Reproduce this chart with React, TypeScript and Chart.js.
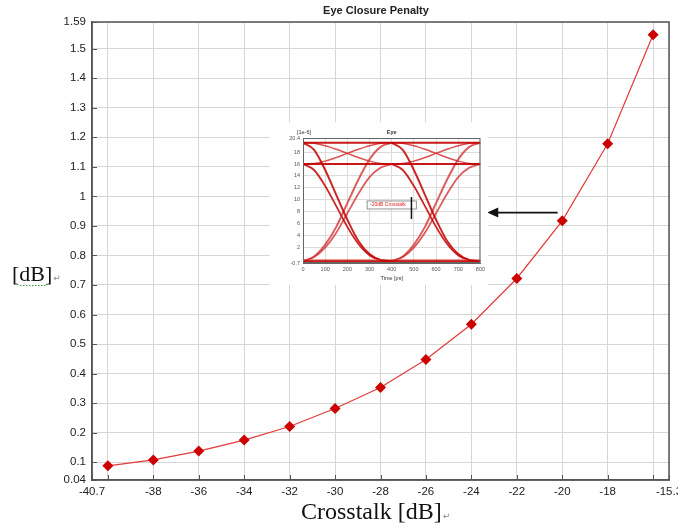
import React, { useEffect, useRef } from "react";
import { Chart, registerables } from "chart.js";

Chart.register(...registerables);

// ---------- main chart data ----------
const crosstalkDb = [-40, -38, -36, -34, -32, -30, -28, -26, -24, -22, -20, -18, -16];
const penaltyDb = [0.088, 0.108, 0.138, 0.175, 0.221, 0.282, 0.353, 0.448, 0.567, 0.722, 0.917, 1.178, 1.547];
const xTickValues = [-40.7, -40, -38, -36, -34, -32, -30, -28, -26, -24, -22, -20, -18, -16, -15.3];
const xTickUnlabeled = [-40, -16];
const yTickValues = [0.04, 0.1, 0.2, 0.3, 0.4, 0.5, 0.6, 0.7, 0.8, 0.9, 1, 1.1, 1.2, 1.3, 1.4, 1.5, 1.59];
const xMin = -40.7;
const xMax = -15.3;
const yMin = 0.04;
const yMax = 1.59;

const chartTitle = "Eye Closure Penalty";
const xAxisTitle = "Crosstalk [dB]";
const yAxisTitle = "[dB]";

// arrow annotation (data units)
const arrowTail = { x: -20.2, y: 0.945 };
const arrowHead = { x: -23.3, y: 0.945 };

// ---------- inset eye diagram data ----------
const eyeTitle = "Eye";
const eyeUnit = "[1e-6]";
const eyeXTitle = "Time [ps]";
const eyeNote = "-20dB Crosstalk";
const eyeBitStarts = [0, 400];
const eyeTime = [0, 50, 100, 150, 200, 250, 300, 350, 400];
const eyeHigh = [19.6, 19.6, 19.6, 19.6, 19.6, 19.6, 19.6, 19.6, 19.6];
const eyeMid = [16.0, 16.0, 16.0, 16.0, 16.0, 16.0, 16.0, 16.0, 16.0];
const eyeLow = [-0.4, -0.4, -0.4, -0.4, -0.4, -0.4, -0.4, -0.4, -0.4];
const eyeLow2 = [-0.2, -0.2, -0.2, -0.2, -0.2, -0.2, -0.2, -0.2, -0.2];
const eyeHighToLow = [19.6, 18.4, 15.0, 10.8, 6.6, 3.0, 0.8, -0.2, -0.4];
const eyeLowToHigh = [-0.4, 0.4, 2.4, 5.4, 9.4, 13.4, 16.8, 18.9, 19.6];
const eyeMidToLow = [16.0, 15.0, 12.3, 8.9, 5.4, 2.5, 0.6, -0.2, -0.4];
const eyeLowToMid = [-0.4, 0.3, 1.9, 4.4, 7.7, 11.0, 13.8, 15.4, 16.0];
const eyeHighToMid = [19.6, 19.5, 19.1, 18.5, 17.8, 17.1, 16.5, 16.1, 16.0];
const eyeMidToHigh = [16.0, 16.1, 16.5, 17.1, 17.8, 18.5, 19.1, 19.5, 19.6];
const eyeXTicks = [0, 100, 200, 300, 400, 500, 600, 700, 800];
const eyeYTicks = [-0.7, 2, 4, 6, 8, 10, 12, 14, 16, 18, 20.4];
const eyeXMin = 0;
const eyeXMax = 800;
const eyeYMin = -0.7;
const eyeYMax = 20.4;
// note box and marker in eye data units
const eyeNoteBox = { x1: 289, x2: 511, y1: 9.77, y2: 8.42 };
const eyeMarker = { x: 489, y1: 10.44, y2: 6.73 };

const fmt = (v: number) => String(Number(v.toFixed(2)));

const SANS = "'Liberation Sans', Arial, sans-serif";
const SERIF = "'Liberation Serif', 'Times New Roman', serif";

export default function App() {
  const mainRef = useRef<HTMLCanvasElement>(null);
  const insetRef = useRef<HTMLCanvasElement>(null);

  useEffect(() => {
    const decor = {
      id: "decor",
      afterDraw(chart: any) {
        const { ctx, chartArea: a, scales } = chart;
        const xs = scales.x;
        const ys = scales.y;
        ctx.save();
        // inward tick marks
        ctx.strokeStyle = "#555";
        ctx.lineWidth = 1;
        xTickValues.forEach((v) => {
          const px = Math.round(xs.getPixelForValue(v)) + 0.5;
          ctx.beginPath();
          ctx.moveTo(px, a.bottom);
          ctx.lineTo(px, a.bottom - 5);
          ctx.stroke();
        });
        yTickValues.forEach((v) => {
          const py = Math.round(ys.getPixelForValue(v)) + 0.5;
          ctx.beginPath();
          ctx.moveTo(a.left, py);
          ctx.lineTo(a.left + 5, py);
          ctx.stroke();
        });
        // frame
        ctx.strokeStyle = "#555";
        ctx.lineWidth = 1.5;
        ctx.strokeRect(a.left, a.top, a.right - a.left, a.bottom - a.top);
        // title
        ctx.fillStyle = "#222";
        ctx.font = `bold 11px ${SANS}`;
        ctx.textAlign = "center";
        ctx.textBaseline = "middle";
        ctx.fillText(chartTitle, 376, 11);
        // y title
        ctx.font = `22px ${SERIF}`;
        ctx.textAlign = "left";
        ctx.textBaseline = "alphabetic";
        ctx.fillStyle = "#111";
        ctx.fillText(yAxisTitle, 12, 281);
        const yw = ctx.measureText(yAxisTitle).width;
        ctx.strokeStyle = "#3a9a3a";
        ctx.lineWidth = 1;
        ctx.setLineDash([1.5, 1.5]);
        ctx.beginPath();
        ctx.moveTo(20, 285.5);
        ctx.lineTo(12 + yw - 7, 285.5);
        ctx.stroke();
        ctx.setLineDash([]);
        ctx.fillStyle = "#888";
        ctx.font = `9px 'DejaVu Sans'`;
        ctx.fillText("\u21b5", 12 + yw + 1, 281);
        // x title
        ctx.fillStyle = "#111";
        ctx.font = `24px ${SERIF}`;
        ctx.fillText(xAxisTitle, 301, 519);
        const xw = ctx.measureText(xAxisTitle).width;
        ctx.fillStyle = "#888";
        ctx.font = `9px 'DejaVu Sans'`;
        ctx.fillText("\u21b5", 301 + xw + 1, 519);
        // arrow
        const x1 = xs.getPixelForValue(arrowTail.x);
        const x2 = xs.getPixelForValue(arrowHead.x);
        const y = ys.getPixelForValue(arrowTail.y);
        ctx.strokeStyle = "#111";
        ctx.fillStyle = "#111";
        ctx.lineWidth = 1.6;
        ctx.beginPath();
        ctx.moveTo(x1, y);
        ctx.lineTo(x2 + 9, y);
        ctx.stroke();
        ctx.beginPath();
        ctx.moveTo(x2, y);
        ctx.lineTo(x2 + 11, y - 5);
        ctx.lineTo(x2 + 11, y + 5);
        ctx.closePath();
        ctx.fill();
        ctx.restore();
      },
    };

    const main = new Chart(mainRef.current!, {
      type: "line",
      data: {
        datasets: [
          {
            data: crosstalkDb.map((x, i) => ({ x, y: penaltyDb[i] })),
            borderColor: "#e33a3a",
            borderWidth: 1.2,
            pointStyle: "rectRot",
            pointRadius: 5.5,
            pointBackgroundColor: "#cc0000",
            pointBorderColor: "#cc0000",
            pointBorderWidth: 0,
          },
        ],
      },
      options: {
        animation: false,
        responsive: true,
        maintainAspectRatio: false,
        layout: { padding: { top: 22, right: 21, left: 0, bottom: 0 } },
        plugins: { legend: { display: false }, tooltip: { enabled: false }, title: { display: false } },
        scales: {
          x: {
            type: "linear",
            min: xMin,
            max: xMax,
            afterBuildTicks: (s: any) => {
              s.ticks = xTickValues.map((v) => ({ value: v }));
            },
            afterFit: (s: any) => {
              s.height = 47;
            },
            ticks: {
              autoSkip: false,
              maxRotation: 0,
              padding: 5,
              color: "#222",
              font: { family: SANS, size: 11.5 },
              callback: (v: any) => (xTickUnlabeled.includes(Number(v)) ? "" : fmt(Number(v))),
            },
            grid: { color: "#d6d6d6", drawTicks: false },
            border: { color: "#555", width: 1.5 },
          },
          y: {
            type: "linear",
            min: yMin,
            max: yMax,
            afterBuildTicks: (s: any) => {
              s.ticks = yTickValues.map((v) => ({ value: v }));
            },
            afterFit: (s: any) => {
              s.width = 92;
            },
            ticks: {
              autoSkip: false,
              padding: 6,
              color: "#222",
              font: { family: SANS, size: 11.5 },
              callback: (v: any) => fmt(Number(v)),
            },
            grid: { color: "#d6d6d6", drawTicks: false },
            border: { color: "#555", width: 1.5 },
          },
        },
      } as any,
      plugins: [decor],
    });

    const curves: { d: number[]; c: string; w: number }[] = [
      { d: eyeHigh, c: "rgba(195,0,0,0.9)", w: 2 },
      { d: eyeMid, c: "rgba(195,0,0,0.9)", w: 2 },
      { d: eyeLow, c: "rgba(195,0,0,0.9)", w: 2 },
      { d: eyeLow2, c: "rgba(220,60,60,0.7)", w: 1.4 },
      { d: eyeHighToLow, c: "rgba(195,0,0,0.85)", w: 2 },
      { d: eyeLowToHigh, c: "rgba(210,40,40,0.75)", w: 2 },
      { d: eyeMidToLow, c: "rgba(195,0,0,0.85)", w: 1.8 },
      { d: eyeLowToMid, c: "rgba(210,40,40,0.75)", w: 1.8 },
      { d: eyeHighToMid, c: "rgba(210,40,40,0.8)", w: 1.5 },
      { d: eyeMidToHigh, c: "rgba(210,40,40,0.8)", w: 1.5 },
    ];
    const insetDatasets: any[] = [];
    eyeBitStarts.forEach((t0) => {
      curves.forEach((cv) => {
        insetDatasets.push({
          data: eyeTime.map((t, i) => ({ x: t + t0, y: cv.d[i] })),
          borderColor: cv.c,
          borderWidth: cv.w,
          pointRadius: 0,
          cubicInterpolationMode: "monotone",
        });
      });
    });

    const insetDecor = {
      id: "insetDecor",
      afterDraw(chart: any) {
        const { ctx, chartArea: a, scales } = chart;
        const xs = scales.x;
        const ys = scales.y;
        ctx.save();
        ctx.strokeStyle = "#666";
        ctx.lineWidth = 1;
        ctx.strokeRect(a.left + 0.5, a.top + 0.5, a.right - a.left - 1, a.bottom - a.top - 1);
        ctx.fillStyle = "#333";
        ctx.font = `bold 5.5px ${SANS}`;
        ctx.textAlign = "center";
        ctx.textBaseline = "middle";
        ctx.fillText(eyeTitle, (a.left + a.right) / 2, a.top - 6);
        ctx.font = `5.5px ${SANS}`;
        ctx.fillText(eyeUnit, a.left + 1, a.top - 6);
        ctx.fillText(eyeXTitle, (a.left + a.right) / 2, a.bottom + 15);
        // note box
        const bx1 = xs.getPixelForValue(eyeNoteBox.x1);
        const bx2 = xs.getPixelForValue(eyeNoteBox.x2);
        const by1 = ys.getPixelForValue(eyeNoteBox.y1);
        const by2 = ys.getPixelForValue(eyeNoteBox.y2);
        ctx.fillStyle = "#fff";
        ctx.fillRect(bx1, by1, bx2 - bx1, by2 - by1);
        ctx.strokeStyle = "#777";
        ctx.lineWidth = 0.8;
        ctx.strokeRect(bx1, by1, bx2 - bx1, by2 - by1);
        ctx.fillStyle = "#d22";
        ctx.font = `5px ${SANS}`;
        ctx.textAlign = "left";
        ctx.fillText(eyeNote, bx1 + 3, (by1 + by2) / 2);
        // marker
        const mx = xs.getPixelForValue(eyeMarker.x);
        ctx.strokeStyle = "#111";
        ctx.lineWidth = 1.5;
        ctx.beginPath();
        ctx.moveTo(mx, ys.getPixelForValue(eyeMarker.y1));
        ctx.lineTo(mx, ys.getPixelForValue(eyeMarker.y2));
        ctx.stroke();
        ctx.restore();
      },
    };

    const inset = new Chart(insetRef.current!, {
      type: "line",
      data: { datasets: insetDatasets },
      options: {
        animation: false,
        responsive: true,
        maintainAspectRatio: false,
        layout: { padding: { top: 16, right: 5, left: 0, bottom: 0 } },
        plugins: { legend: { display: false }, tooltip: { enabled: false } },
        scales: {
          x: {
            type: "linear",
            min: eyeXMin,
            max: eyeXMax,
            afterBuildTicks: (s: any) => {
              s.ticks = eyeXTicks.map((v) => ({ value: v }));
            },
            afterFit: (s: any) => {
              s.height = 22;
            },
            ticks: {
              autoSkip: false,
              maxRotation: 0,
              padding: 3,
              color: "#555",
              font: { family: SANS, size: 5.5 },
              callback: (v: any) => fmt(Number(v)),
            },
            grid: { color: "#dcdcdc", drawTicks: false },
            border: { color: "#666", width: 1 },
          },
          y: {
            type: "linear",
            min: eyeYMin,
            max: eyeYMax,
            afterBuildTicks: (s: any) => {
              s.ticks = eyeYTicks.map((v) => ({ value: v }));
            },
            afterFit: (s: any) => {
              s.width = 33;
            },
            ticks: {
              autoSkip: false,
              padding: 3,
              color: "#555",
              font: { family: SANS, size: 5.5 },
              callback: (v: any) => fmt(Number(v)),
            },
            grid: { color: "#dcdcdc", drawTicks: false },
            border: { color: "#666", width: 1 },
          },
        },
      } as any,
      plugins: [insetDecor],
    });

    return () => {
      main.destroy();
      inset.destroy();
    };
  }, []);

  return (
    <div
      style={{
        position: "absolute",
        left: 0,
        top: 0,
        width: 678,
        height: 527,
        overflow: "hidden",
        background: "#fff",
      }}
    >
      <div style={{ position: "absolute", left: 0, top: 0, width: 690, height: 527 }}>
        <canvas ref={mainRef} />
      </div>
      <div
        style={{
          position: "absolute",
          left: 270,
          top: 122,
          width: 218,
          height: 163,
          background: "#fff",
        }}
      >
        <canvas ref={insetRef} />
      </div>
    </div>
  );
}
